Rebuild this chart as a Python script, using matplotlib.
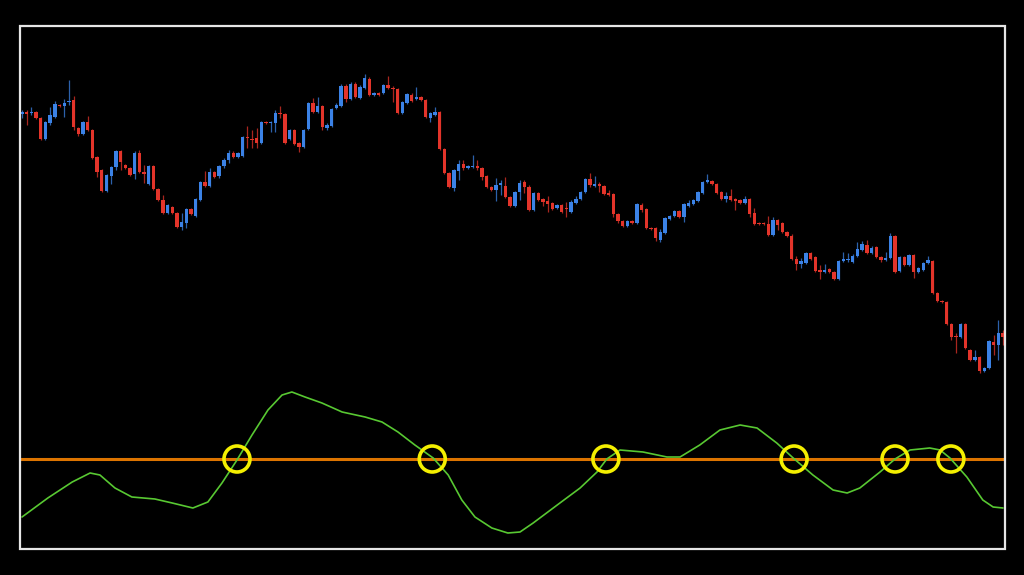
import matplotlib
matplotlib.use("Agg")
import matplotlib.pyplot as plt
from matplotlib.patches import Rectangle

# candle data (arbitrary price units)
opens = [386, 388, 387, 388, 382, 361, 377, 383, 395, 394, 398, 400, 372, 366, 378, 370, 343, 330, 309, 324,
         333, 349, 335, 332, 326, 347, 328, 316, 334, 311, 300, 287, 293, 287, 273, 277, 291, 284, 300, 318,
         314, 328, 324, 334, 340, 347, 343, 344, 363, 361, 362, 357, 378, 377, 377, 387, 386, 361, 370, 357,
         353, 371, 397, 388, 394, 372, 374, 392, 394, 414, 401, 416, 402, 412, 421, 405, 407, 407, 415, 412,
         411, 387, 397, 405, 401, 403, 400, 382, 385, 388, 351, 327, 312, 329, 336, 332, 333, 334, 332, 324,
         313, 310, 315, 314, 303, 294, 308, 318, 313, 290, 307, 301, 299, 297, 292, 295, 292, 288, 297, 301,
         308, 321, 314, 316, 314, 307, 306, 286, 279, 274, 279, 277, 295, 291, 272, 272, 260, 267, 281, 284,
         289, 283, 294, 296, 299, 307, 318, 319, 316, 308, 301, 304, 301, 300, 297, 301, 287, 277, 277, 276,
         265, 280, 277, 268, 264, 241, 236, 237, 247, 243, 230, 228, 231, 228, 221, 239, 240, 238, 244, 250,
         255, 247, 253, 243, 240, 242, 264, 229, 243, 235, 245, 228, 230, 237, 239, 207, 199, 198, 176, 164,
         163, 176, 150, 140, 143, 129, 132, 158, 155, 167]
highs = [390, 390, 393, 389, 383, 379, 393, 399, 396, 401, 420, 404, 373, 379, 384, 371, 344, 331, 326, 334,
         350, 350, 336, 333, 349, 350, 335, 335, 335, 312, 305, 296, 294, 288, 287, 292, 292, 302, 319, 329,
         332, 329, 335, 342, 350, 349, 348, 364, 374, 370, 372, 379, 379, 379, 390, 394, 387, 371, 371, 358,
         371, 398, 402, 403, 395, 377, 392, 397, 416, 416, 418, 418, 415, 426, 423, 408, 408, 416, 424, 414,
         412, 399, 407, 407, 413, 404, 401, 388, 393, 389, 352, 328, 331, 340, 340, 335, 345, 340, 333, 325,
         314, 322, 320, 323, 304, 309, 320, 320, 315, 308, 308, 302, 304, 298, 296, 296, 298, 300, 304, 309,
         322, 327, 324, 318, 315, 310, 307, 287, 280, 280, 280, 297, 297, 292, 273, 273, 271, 283, 285, 290,
         290, 297, 300, 301, 309, 319, 326, 320, 317, 309, 308, 311, 302, 301, 304, 302, 292, 278, 278, 284,
         283, 281, 278, 269, 266, 244, 242, 248, 248, 244, 235, 236, 232, 229, 240, 248, 247, 246, 258, 259,
         260, 254, 254, 244, 248, 267, 265, 244, 244, 246, 246, 233, 238, 244, 240, 208, 200, 199, 177, 167,
         177, 177, 151, 150, 144, 133, 160, 165, 180, 170]
lows = [382, 375, 385, 381, 360, 360, 375, 382, 393, 383, 395, 370, 364, 365, 369, 341, 323, 308, 308, 316,
        330, 330, 331, 324, 321, 327, 317, 315, 310, 299, 286, 286, 286, 272, 270, 272, 285, 283, 299, 313,
        313, 322, 322, 332, 337, 342, 342, 343, 352, 352, 352, 356, 376, 368, 368, 382, 356, 360, 355, 348,
        352, 370, 387, 387, 370, 370, 373, 391, 393, 398, 400, 402, 401, 411, 404, 404, 404, 406, 411, 398,
        386, 386, 396, 398, 400, 399, 382, 378, 384, 350, 326, 312, 309, 320, 330, 331, 332, 330, 320, 312,
        309, 299, 305, 302, 293, 293, 300, 307, 289, 289, 299, 294, 288, 290, 291, 287, 283, 287, 296, 300,
        307, 313, 313, 308, 305, 304, 283, 277, 273, 273, 276, 276, 288, 271, 270, 259, 258, 266, 280, 283,
        282, 278, 293, 295, 298, 306, 317, 315, 306, 300, 298, 299, 290, 296, 296, 283, 275, 275, 275, 264,
        264, 270, 267, 263, 240, 230, 232, 236, 240, 228, 221, 227, 227, 220, 220, 238, 238, 237, 243, 249,
        246, 246, 242, 238, 239, 241, 227, 228, 234, 234, 222, 227, 229, 236, 206, 198, 197, 175, 160, 147,
        162, 151, 139, 139, 127, 128, 131, 145, 140, 155]
closes = [388, 386, 388, 382, 361, 378, 385, 396, 394, 397, 399, 373, 366, 378, 370, 342, 328, 309, 325, 333,
          349, 338, 332, 325, 347, 328, 326, 334, 311, 300, 287, 295, 287, 273, 278, 291, 286, 301, 318, 314,
          328, 323, 334, 340, 347, 343, 347, 363, 362, 360, 357, 378, 377, 378, 387, 386, 357, 370, 356, 353,
          370, 397, 388, 394, 373, 375, 391, 395, 414, 401, 416, 403, 413, 422, 405, 407, 405, 415, 412, 411,
          387, 398, 406, 399, 403, 400, 383, 387, 388, 351, 327, 313, 330, 336, 332, 334, 334, 332, 323, 313,
          310, 315, 317, 303, 294, 308, 317, 313, 290, 307, 300, 298, 296, 291, 295, 288, 291, 298, 301, 308,
          321, 315, 316, 314, 306, 305, 286, 279, 274, 279, 277, 296, 290, 272, 271, 262, 268, 282, 284, 289,
          283, 296, 297, 300, 308, 318, 320, 316, 307, 301, 304, 300, 299, 297, 301, 286, 276, 276, 276, 265,
          280, 275, 268, 264, 241, 236, 239, 247, 241, 229, 228, 230, 228, 221, 239, 241, 241, 244, 251, 256,
          247, 252, 243, 240, 242, 264, 228, 243, 235, 245, 228, 232, 237, 240, 207, 199, 198, 176, 163, 163,
          176, 152, 140, 143, 129, 132, 159, 155, 167, 163]

# oscillator, sampled at bar positions
osc_x = [0, 5.5, 10.7, 14.5, 16.6, 19.8, 23.4, 28.3, 32.0, 36.4, 39.6, 42.6, 45.8, 49.0, 52.4, 55.4, 57.5,
         60.3, 63.9, 68.2, 73.1, 76.7, 80.1, 83.7, 87.6, 90.8, 93.7, 96.5, 100.1, 103.5, 106.1, 108.9, 114.6,
         118.9, 122.5, 124.6, 127.4, 132.3, 137.4, 140.2, 144.4, 148.7, 153.0, 156.6, 160.8, 164.3, 168.5,
         172.8, 175.8, 178.5, 182.8, 186.0, 189.2, 193.4, 195.6, 197.7, 201.3, 204.7, 206.9, 209.0]
osc_y = [-58, -39, -23, -14, -16, -29, -38, -40, -44, -49, -43, -24, -1, 24, 49, 64, 67,
         62, 56, 47, 42, 37, 27, 14, 1, -16, -41, -58, -69, -74, -73, -64, -44,
         -29, -13, 0, 9, 7, 2, 2, 14, 29, 34, 31, 16, 1, -16,
         -31, -34, -29, -13, 0, 9, 11, 9, 1, -18, -41, -48, -49]

# zero crossings marked on the chart
cross_x = [45.8, 87.4, 124.4, 164.5, 186.0, 197.9]
level = 0

BULL = '#3b82e6'
BEAR = '#e3342a'

fig = plt.figure(figsize=(10.24, 5.75), dpi=100, facecolor='black')
W, H = 1024, 575
ax = fig.add_axes([20 / W, (H - 380) / H, 985 / W, (380 - 26) / H])
ax2 = fig.add_axes([20 / W, (H - 549) / H, 985 / W, (549 - 380) / H], sharex=ax)

for a in (ax, ax2):
    a.set_facecolor('black')
    a.set_xticks([])
    a.set_yticks([])
    for s in a.spines.values():
        s.set_visible(False)

idx = list(range(len(opens)))
colors = [BULL if c >= o else BEAR for o, c in zip(opens, closes)]
bottoms = [min(o, c) for o, c in zip(opens, closes)]
heights = [max(abs(c - o), 1) for o, c in zip(opens, closes)]

ax.vlines(idx, lows, highs, colors=colors, linewidth=0.9, alpha=0.75)
ax.bar(idx, heights, bottom=bottoms, width=0.72, color=colors, linewidth=0)
ax.set_xlim(-0.43, len(opens) - 1 + 0.43)
ax.set_ylim(120, 474)

ax2.axhline(level, color='#dc7400', linewidth=2.2, zorder=2)
ax2.plot(osc_x, osc_y, color='#58c832', linewidth=1.2, zorder=3,
         solid_joinstyle='round', solid_capstyle='round')
ax2.scatter(cross_x, [level] * len(cross_x), s=350, facecolors='none',
            edgecolors='#f4ef00', linewidths=2.6, zorder=4)
ax2.set_ylim(-90, 79)

fig.patches.append(Rectangle((20 / W, (H - 549) / H), 985 / W, (549 - 26) / H,
                             transform=fig.transFigure, fill=False,
                             edgecolor='#e6e6e6', linewidth=1.6))

fig.savefig('out.png', dpi=100, facecolor='black')
